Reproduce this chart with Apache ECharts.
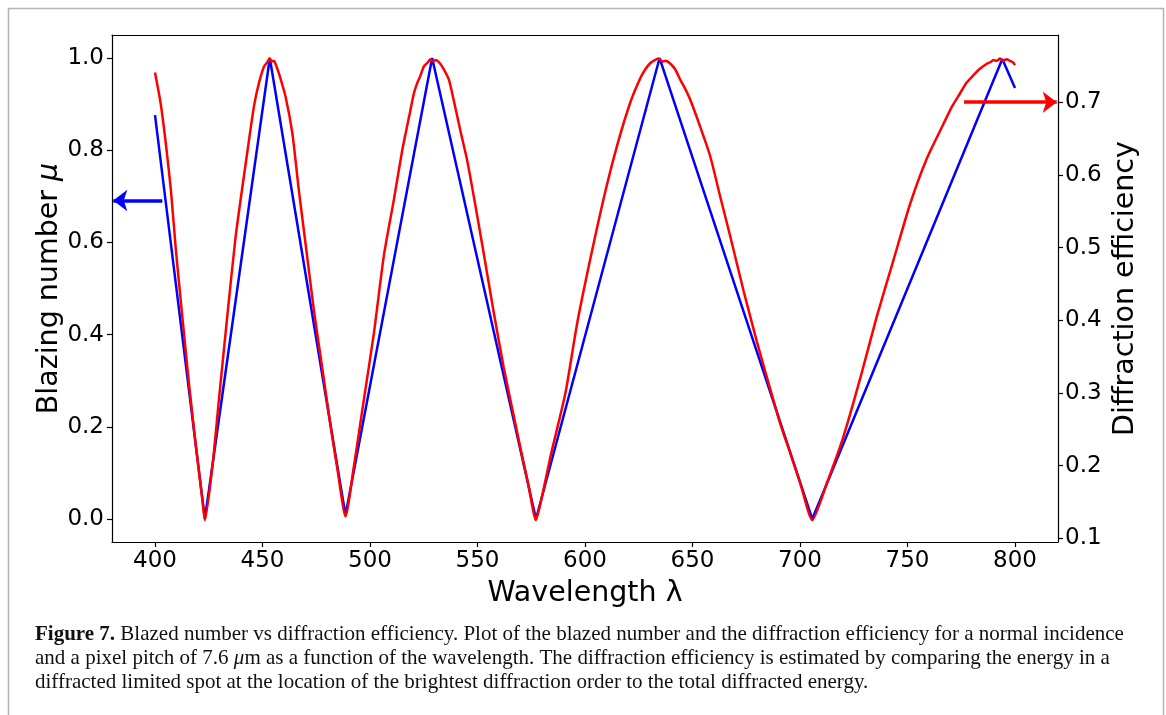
<!DOCTYPE html>
<html>
<head>
<meta charset="utf-8">
<script src="https://cdn.jsdelivr.net/npm/echarts@6/dist/echarts.min.js"></script>
<style>
html,body{margin:0;padding:0;background:#fff;}
#chart{width:1166px;height:715px;}
</style>
</head>
<body>
<div id="chart"></div>
<script>
// Wavelength ticks and axis tick labels
const xTicks = [400, 450, 500, 550, 600, 650, 700, 750, 800];
const leftTicks = [0.0, 0.2, 0.4, 0.6, 0.8, 1.0];
const rightTicks = [0.1, 0.2, 0.3, 0.4, 0.5, 0.6, 0.7];

// Blazing number mu (left axis): [wavelength, mu]
const blazing = [
  [400, 0.876], [423.2, 0.0], [453.4, 1.0], [488.6, 0.008], [528.9, 1.0],
  [577.2, 0.0], [634.7, 1.0], [705.7, 0.0], [794.1, 0.998], [800, 0.935]
];

// Diffraction efficiency (right axis): [wavelength, efficiency]
const efficiency = [
  [400, 0.741], [402.6, 0.699], [405, 0.644], [407.4, 0.579], [409.7, 0.497],
  [412.7, 0.405], [415.8, 0.313], [418.9, 0.230], [422, 0.154], [423.2, 0.125],
  [426.7, 0.199], [429.7, 0.290], [433.6, 0.405], [437.5, 0.515], [442.2, 0.616],
  [446, 0.694], [448.3, 0.726], [450.7, 0.749], [452.2, 0.755], [453.3, 0.760],
  [454.3, 0.756], [455.3, 0.757], [456.3, 0.751], [457.6, 0.740], [460.7, 0.708],
  [463.9, 0.657], [466.9, 0.579], [470, 0.506], [473.9, 0.414], [477.8, 0.334],
  [481.7, 0.254], [484.8, 0.196], [488.6, 0.130],
  [492.5, 0.199], [497.1, 0.290], [501.8, 0.382], [506.4, 0.488], [511.1, 0.566],
  [515, 0.634], [518.8, 0.689], [520.4, 0.712], [521.9, 0.726], [523.5, 0.737],
  [525, 0.749], [526.6, 0.754], [528.1, 0.759], [529.4, 0.756], [530.5, 0.758],
  [532.1, 0.755], [534.4, 0.745], [536.7, 0.731], [539, 0.702], [542.1, 0.660],
  [545.2, 0.620], [548.3, 0.570], [552.9, 0.492], [557.6, 0.410], [562.2, 0.335],
  [566.9, 0.268], [570, 0.224], [573.5, 0.176], [577.2, 0.125],
  [579.3, 0.148], [583.9, 0.212], [590.9, 0.300], [596.3, 0.395], [602.5, 0.485],
  [608.7, 0.568], [614.9, 0.640], [621.1, 0.700], [625.7, 0.733], [628, 0.745],
  [630.4, 0.754], [632.5, 0.758], [634.2, 0.760], [636, 0.756], [637.5, 0.757],
  [639.7, 0.753], [642, 0.745], [644.3, 0.731], [646.5, 0.719], [649, 0.703],
  [653.6, 0.666], [658.3, 0.625], [662.9, 0.570], [667.6, 0.515], [673.8, 0.440],
  [680, 0.370], [686.2, 0.305], [690.8, 0.258], [695.4, 0.218], [700.1, 0.176],
  [705.7, 0.125],
  [712.5, 0.176], [720.2, 0.240], [728, 0.320], [735.7, 0.405], [743.4, 0.482],
  [751.2, 0.560], [758.9, 0.622], [766.7, 0.670], [770.5, 0.693], [774.4, 0.712],
  [777.5, 0.727], [780.6, 0.737], [783.7, 0.746], [786.9, 0.753], [788.5, 0.755],
  [790, 0.758], [791.5, 0.757], [793, 0.760], [794.5, 0.757], [796, 0.759],
  [797.7, 0.757], [799, 0.755], [800, 0.751]
];

// Annotation arrows: [xStart, xEnd, y]
const blueArrow = [403.4, 380.6, 0.691];
const redArrow = [776.3, 819.4, 0.7];

const FONT = 'DejaVu Sans';
const chart = echarts.init(document.getElementById('chart'), null, {renderer: 'canvas'});

const lineSty = {color: '#000', width: 1.2};
const tickSty = {show: true, length: 5, lineStyle: {color: '#000', width: 1.2}};
const labelSty = {color: '#000', fontFamily: FONT, fontSize: 23};
const nameSty = {color: '#000', fontFamily: FONT, fontSize: 28.5};

chart.setOption({
  animation: false,
  backgroundColor: '#fff',
  grid: {left: 112, right: 108, top: 35, bottom: 173, containLabel: false},
  xAxis: [
    {
      type: 'value', min: 380, max: 820, position: 'bottom',
      axisLine: {show: true, onZero: false, lineStyle: lineSty},
      axisTick: Object.assign({}, tickSty, {customValues: xTicks}),
      axisLabel: Object.assign({}, labelSty, {customValues: xTicks, margin: 8,
        formatter: v => String(Math.round(v))}),
      splitLine: {show: false},
      name: 'Wavelength λ', nameLocation: 'middle', nameGap: 37, nameMoveOverlap: false,
      nameTextStyle: nameSty
    },
    {
      type: 'value', min: 380, max: 820, position: 'top',
      axisLine: {show: true, onZero: false, lineStyle: lineSty},
      axisTick: {show: false}, axisLabel: {show: false}, splitLine: {show: false}
    }
  ],
  yAxis: [
    {
      type: 'value', min: -0.05, max: 1.05, position: 'left',
      axisLine: {show: true, onZero: false, lineStyle: lineSty},
      axisTick: Object.assign({}, tickSty, {customValues: leftTicks}),
      axisLabel: Object.assign({}, labelSty, {customValues: leftTicks, margin: 8,
        formatter: v => v.toFixed(1)}),
      splitLine: {show: false},
      name: 'Blazing number {i|μ}', nameLocation: 'middle', nameRotate: 90, nameGap: 48,
      nameMoveOverlap: false,
      nameTextStyle: Object.assign({}, nameSty, {
        rich: {i: {fontStyle: 'italic', fontFamily: FONT, fontSize: 28.5, color: '#000'}}
      })
    },
    {
      type: 'value', min: 0.095, max: 0.7925, position: 'right',
      axisLine: {show: true, onZero: false, lineStyle: lineSty},
      axisTick: Object.assign({}, tickSty, {customValues: rightTicks}),
      axisLabel: Object.assign({}, labelSty, {customValues: rightTicks, margin: 7,
        formatter: v => v.toFixed(1)}),
      splitLine: {show: false},
      name: 'Diffraction efficiency', nameLocation: 'middle', nameRotate: 90, nameGap: 53,
      nameMoveOverlap: false,
      nameTextStyle: nameSty
    }
  ],
  series: [
    {
      type: 'line', name: 'blazing', data: blazing, xAxisIndex: 0, yAxisIndex: 0,
      showSymbol: false, symbol: 'none', lineStyle: {color: '#0000ff', width: 2.5}, z: 2,
      markLine: {
        silent: true, symbol: ['none', 'arrow'], symbolSize: [16, 14],
        lineStyle: {color: '#0000ff', width: 3.5, type: 'solid'},
        label: {show: false},
        data: [[{coord: [blueArrow[0], blueArrow[2]]}, {coord: [blueArrow[1], blueArrow[2]]}]]
      }
    },
    {
      type: 'line', name: 'efficiency', data: efficiency, xAxisIndex: 0, yAxisIndex: 1,
      showSymbol: false, symbol: 'none', smooth: 0.2,
      lineStyle: {color: '#ff0000', width: 2.5}, z: 3,
      markLine: {
        silent: true, symbol: ['none', 'arrow'], symbolSize: [16, 14],
        lineStyle: {color: '#ff0000', width: 3.5, type: 'solid'},
        label: {show: false},
        data: [[{coord: [redArrow[0], redArrow[2]]}, {coord: [redArrow[1], redArrow[2]]}]]
      }
    }
  ],
  graphic: [
    {type: 'rect', shape: {x: 8.5, y: 8.5, width: 1155, height: 730},
     style: {fill: 'none', stroke: '#b4b4b4', lineWidth: 1.5}, silent: true},
    {type: 'text', left: 35, top: 624, silent: true,
     style: {text: '{b|Figure 7.} Blazed number vs diffraction efficiency. Plot of the blazed number and the diffraction efficiency for a normal incidence',
       font: '21px "Liberation Serif"', fill: '#111',
       rich: {b: {fontWeight: 'bold', fontFamily: 'Liberation Serif', fontSize: 21, fill: '#111'}}}},
    {type: 'text', left: 35, top: 648, silent: true,
     style: {text: 'and a pixel pitch of 7.6 {i|μ}m as a function of the wavelength. The diffraction efficiency is estimated by comparing the energy in a',
       font: '21px "Liberation Serif"', fill: '#111',
       rich: {i: {fontStyle: 'italic', fontFamily: 'Liberation Serif', fontSize: 21, fill: '#111'}}}},
    {type: 'text', left: 35, top: 672, silent: true,
     style: {text: 'diffracted limited spot at the location of the brightest diffraction order to the total diffracted energy.',
       font: '21px "Liberation Serif"', fill: '#111'}}
  ]
});
</script>
</body>
</html>
